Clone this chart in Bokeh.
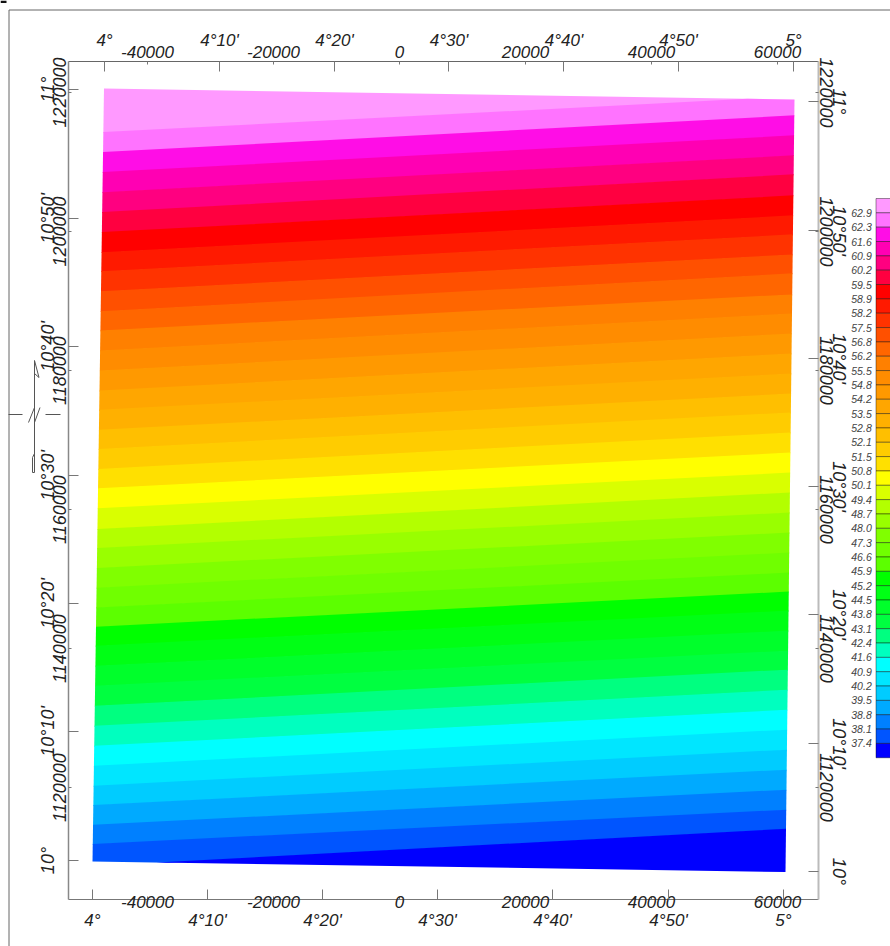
from bokeh.plotting import figure
from bokeh.embed import file_html
from bokeh.resources import INLINE
from bokeh.core.properties import value
from bokeh.models import BasicTickFormatter, FixedTicker, LinearAxis, Range1d

# --- data -----------------------------------------------------------------
legend_labels = ["62.9", "62.3", "61.6", "60.9", "60.2", "59.5", "58.9", "58.2", "57.5", "56.8",
                 "56.2", "55.5", "54.8", "54.2", "53.5", "52.8", "52.1", "51.5", "50.8", "50.1",
                 "49.4", "48.7", "48.0", "47.3", "46.6", "45.9", "45.2", "44.5", "43.8", "43.1",
                 "42.4", "41.6", "40.9", "40.2", "39.5", "38.8", "38.1", "37.4"]
band_colors = ["#FF99FF", "#FF73FF", "#FF0DE6", "#FF00B3", "#FF0080", "#FF0040", "#FF0000", "#FF1A00",
               "#FF3300", "#FF5000", "#FF6600", "#FF8000", "#FF8C00", "#FF9900", "#FFA600", "#FFB000",
               "#FFBF00", "#FFCC00", "#FFE000", "#FFFF00", "#D9FF00", "#B3FF00", "#99FF00", "#80FF00",
               "#70FF00", "#5CFF00", "#00FF00", "#00FF15", "#00FF2B", "#00FF40", "#00FF80", "#00FFBF",
               "#00FFFF", "#00E6FF", "#00CCFF", "#00AAFF", "#0080FF", "#0055FF", "#0000FF"]
# northing (km) of each class boundary on the west and east reference meridians
boundary_west = [1214.29, 1211.41, 1208.53, 1205.65, 1202.78, 1199.90, 1197.02, 1194.29, 1191.41, 1188.53,
                 1185.76, 1182.88, 1180.00, 1177.12, 1174.35, 1171.47, 1168.73, 1165.86, 1163.07, 1160.19,
                 1157.22, 1154.49, 1151.61, 1148.78, 1145.94, 1143.17, 1140.43, 1137.55, 1134.68, 1131.80,
                 1128.92, 1126.04, 1123.17, 1120.29, 1117.55, 1114.68, 1111.94, 1108.78]
boundary_east = [1219.42, 1216.69, 1213.81, 1210.94, 1208.20, 1205.18, 1202.30, 1199.57, 1196.69, 1193.96,
                 1190.94, 1188.20, 1185.32, 1182.45, 1179.57, 1176.69, 1173.96, 1171.08, 1168.20, 1165.32,
                 1162.45, 1159.57, 1156.69, 1153.81, 1150.94, 1148.20, 1145.47, 1142.59, 1139.71, 1136.98,
                 1134.10, 1131.22, 1128.35, 1125.47, 1122.59, 1119.71, 1116.83, 1114.10]
west_ref_e, east_ref_e = -47460, 62063
map_e = [-46905, 62698, 61270, -48730]
map_n = [1220576, 1218993, 1107840, 1109350]

utm_e_ticks = [-40000, -20000, 0, 20000, 40000, 60000]
utm_n_ticks = [1120000, 1140000, 1160000, 1180000, 1200000, 1220000]
lon_labels = ["4°", "4°10'", "4°20'", "4°30'", "4°40'", "4°50'", "5°"]
lon_top_e = [-46825, -28571, -10317, 7857, 26111, 44286, 62540]
lon_bottom_e = [-48730, -30476, -12222, 6032, 24286, 42698, 60952]
lat_labels = ["11°", "10°50'", "10°40'", "10°30'", "10°20'", "10°10'", "10°"]
lat_left_n = [1220432, 1201871, 1183453, 1164892, 1146475, 1128058, 1109496]
lat_right_n = [1218705, 1200144, 1181727, 1163309, 1144892, 1126331, 1107914]

# --- layout ---------------------------------------------------------------
PX_E = 20000 / 126      # metres per pixel, east
PX_N = 20000 / 139      # metres per pixel, north
X_LEFT, X_RIGHT, Y_TOP, Y_BOTTOM = 67.5, 818, 60.5, 898.5
WIDTH, HEIGHT = 890, 946


def ex(px):
    return (px - 399) * PX_E


def ny(py):
    return 1220000 - (py - 92) * PX_N


FONT = "Liberation Sans"
p = figure(width=WIDTH, height=HEIGHT, x_range=Range1d(ex(0), ex(WIDTH)), y_range=Range1d(ny(HEIGHT), ny(0)),
           output_backend="svg", toolbar_location=None, x_axis_location=None, y_axis_location=None,
           min_border=0)
p.xgrid.visible = False
p.ygrid.visible = False
p.outline_line_color = None
p.background_fill_color = "white"


def clip(poly, a, b, c):
    """Keep the part of poly where a*x + b*y >= c."""
    out = []
    for i, (x0, y0) in enumerate(poly):
        x1, y1 = poly[(i + 1) % len(poly)]
        d0, d1 = a * x0 + b * y0 - c, a * x1 + b * y1 - c
        if d0 >= 0:
            out.append((x0, y0))
        if d0 * d1 < 0:
            t = d0 / (d0 - d1)
            out.append((x0 + t * (x1 - x0), y0 + t * (y1 - y0)))
    return out


OVERLAP = 120  # metres a band runs under the next one, so no seam shows
quad = list(zip(map_e, map_n))
xs, ys, colors = [], [], []
for i, col in enumerate(band_colors):
    poly = quad
    if i > 0:      # below boundary i-1
        yw, ye = boundary_west[i - 1] * 1000, boundary_east[i - 1] * 1000
        m = (ye - yw) / (east_ref_e - west_ref_e)
        poly = clip(poly, m, -1, m * west_ref_e - yw)
    if i < len(boundary_west):    # above boundary i
        yw, ye = boundary_west[i] * 1000 - OVERLAP, boundary_east[i] * 1000 - OVERLAP
        m = (ye - yw) / (east_ref_e - west_ref_e)
        poly = clip(poly, -m, 1, yw - m * west_ref_e)
    if poly:
        xs.append([q[0] for q in poly])
        ys.append([q[1] for q in poly])
        colors.append(col)
p.patches(xs, ys, fill_color=colors, line_color=None)

FL, FR, FT, FB = ex(X_LEFT), ex(X_RIGHT), ny(Y_TOP), ny(Y_BOTTOM)
LOCATION = {"above": FT, "below": FB, "left": FL, "right": FR}


def add_axis(side, ticks, standoff, tick_len, overrides=None, line_color=None, line_width=1):
    horizontal = side in ("above", "below")
    axis = LinearAxis(ticker=FixedTicker(ticks=ticks), formatter=BasicTickFormatter(use_scientific=False),
                      fixed_location=LOCATION[side], bounds=(FL, FR) if horizontal else (FB, FT))
    axis.major_tick_in = tick_len
    axis.major_tick_out = 0
    axis.minor_tick_line_color = None
    axis.major_tick_line_color = "#777777"
    axis.axis_line_color = line_color
    axis.axis_line_width = line_width
    axis.major_label_text_font = FONT
    axis.major_label_text_font_style = "italic"
    axis.major_label_text_font_size = "17px" if horizontal else "18px"
    axis.major_label_text_color = "#222222"
    axis.major_label_standoff = standoff
    if overrides:
        axis.major_label_overrides = overrides
    if not horizontal:
        axis.major_label_orientation = "parallel"
    p.add_layout(axis, side)


hyphen = {t: str(t) for t in utm_e_ticks}
add_axis("above", utm_e_ticks, 3, 3, hyphen, "#666666")
add_axis("below", utm_e_ticks, -3, 3, hyphen, "#777777")
add_axis("left", utm_n_ticks, 2, 3, None, "#888888", 1.5)
add_axis("right", utm_n_ticks, 1, 3, None, "#BBBBBB", 2)
add_axis("above", lon_top_e, 11, 10, dict(zip(lon_top_e, lon_labels)))
add_axis("below", lon_bottom_e, 12, 10, dict(zip(lon_bottom_e, lon_labels)))
add_axis("left", lat_left_n, 10, 10, dict(zip(lat_left_n, lat_labels)))
add_axis("right", lat_right_n, 10, 10, dict(zip(lat_right_n, lat_labels)))

# legend
CELL = 14.34
LEG_TOP = 198
n_cells = len(band_colors)
p.quad(left=[ex(875.5)] * n_cells, right=[ex(900)] * n_cells,
       top=[ny(LEG_TOP + i * CELL) for i in range(n_cells)],
       bottom=[ny(LEG_TOP + (i + 1) * CELL) for i in range(n_cells)],
       fill_color=band_colors, line_color="#000000", line_alpha=0.4, line_width=1)
p.text(x=[ex(861)] * len(legend_labels), y=[ny(LEG_TOP + (i + 1) * CELL) for i in range(len(legend_labels))],
       text=legend_labels, text_align="center", text_baseline="middle", text_font=value(FONT),
       text_font_style="italic", text_font_size=value("10.5px"), text_color="#444444")

# outer frame and the scrap of ink in the corner
p.segment([ex(8.5), ex(8.5)], [ny(9.5), ny(9.5)], [ex(890), ex(8.5)], [ny(9.5), ny(946)], line_color="#666666")
p.quad(left=[ex(0)], right=[ex(6)], top=[ny(0)], bottom=[ny(2.5)], fill_color="#111111", line_color=None)

# north arrow
arrow_px = [[(8, 414), (22, 414)], [(45, 414), (60, 414)], [(34, 360), (34, 472)],
            [(34, 360), (38.5, 377), (34, 373)], [(34, 453), (32, 457), (32, 472), (34, 472)],
            [(28, 422), (34, 407), (34, 422), (39.5, 407)]]
p.multi_line([[ex(a) for a, _ in line] for line in arrow_px], [[ny(b) for _, b in line] for line in arrow_px],
             line_color="#555555", line_width=1)

open("out.html", "w").write(file_html(p, INLINE))
